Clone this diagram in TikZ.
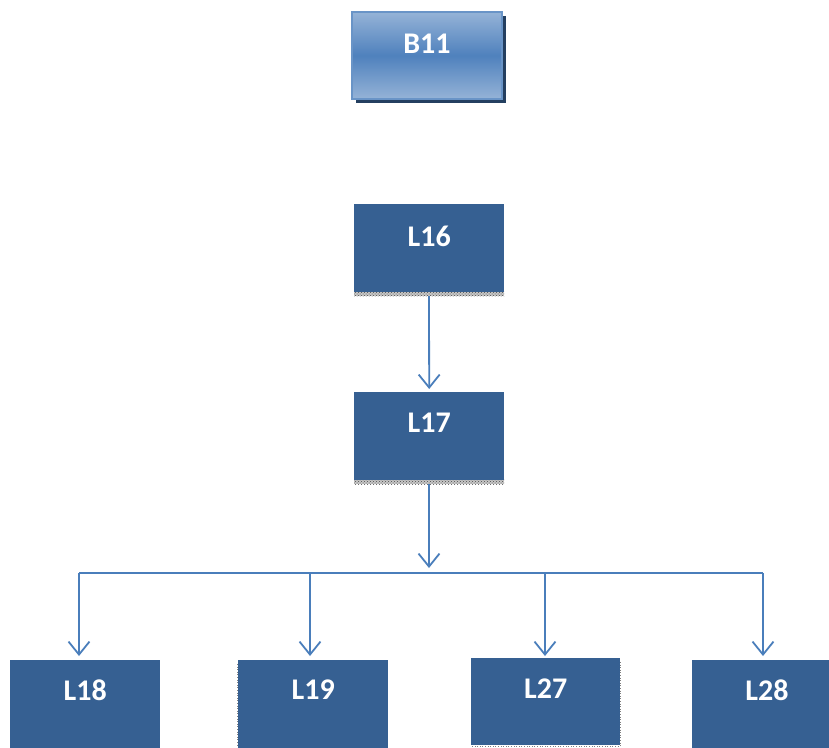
\documentclass[tikz,border=0pt]{standalone}
\usepackage{fontspec}
\setmainfont{Carlito}
\usetikzlibrary{arrows.meta,calc,patterns}
\definecolor{boxblue}{HTML}{366092}
\definecolor{lineblue}{HTML}{4A7EBB}
\definecolor{shadowblue}{HTML}{243F60}
\definecolor{gradlight}{HTML}{95B3D7}
\definecolor{gradmid}{HTML}{4F81BD}
\tikzset{
  box/.style={fill=boxblue, draw=none, minimum width=150pt, minimum height=88pt, anchor=north west, inner sep=0pt},
  gbox/.style={draw=gradmid!85!white, line width=2pt, top color=gradlight, bottom color=gradlight, middle color=gradmid, minimum width=150pt, minimum height=87pt, anchor=north west, inner sep=0pt},
  lbl/.style={text=white, font=\bfseries\fontsize{30}{31}\selectfont, inner sep=0pt},
  shadebg/.style={fill=gray!45, draw=none},
  shade/.style={pattern=crosshatch dots, pattern color=black!70, draw=none},
  conn/.style={draw=lineblue, line width=1.8pt},
  arr/.style={conn, -{Straight Barb[length=13pt,width=21pt,line width=1.8pt]}},
}
\begin{document}
\begin{tikzpicture}[x=1pt,y=-1pt]
\useasboundingbox (0,0) rectangle (829,747);
% B11
\fill[shadowblue] (356,16) rectangle (506,103);
\node[gbox] (b11) at (351,11) {};
\node[lbl] (b11t) at ($(b11.north)+(0,33)$) {B11};
% L16
\fill[shadebg] (354,291) rectangle (504,296);
\fill[shade] (354,291) rectangle (504,296);
\node[box] (l16) at (354,204) {};
\node[lbl] (l16t) at ($(l16.north)+(0,32)$) {L16};
% L17
\fill[shadebg] (354,479) rectangle (504,484);
\fill[shade] (354,479) rectangle (504,484);
\node[box] (l17) at (354,392) {};
\node[lbl] (l17t) at ($(l17.north)+(0,31)$) {L17};
% bottom row
\node[box] (l18) at (10,660) {};
\node[lbl] (l18t) at ($(l18.north)+(0,30)$) {L18};
\draw[gray, dotted, line width=0.6pt] (237,664) -- (237,747);
\node[box] (l19) at (238,660) {};
\node[lbl] (l19t) at ($(l19.north)+(0,30)$) {L19};
\draw[gray, dotted, line width=0.6pt] (620,662) -- (620,746) -- (471,746);
\node[box, minimum width=149pt, minimum height=87pt] (l27) at (471,658) {};
\node[lbl] (l27t) at ($(l27.north)+(0,31)$) {L27};
\node[box] (l28) at (692,660) {};
\node[lbl] (l28t) at (767,690) {L28};
% connectors
\coordinate (j) at (429,573);
\coordinate (a18) at (79,573);
\coordinate (a19) at (310,573);
\coordinate (a27) at (545,573);
\coordinate (a28) at (763,573);
\draw[arr, shorten >=3pt] (429,296) -- (l17.north);
\draw[conn] (a18) -- (a28);
\draw[arr, shorten >=5pt] (429,484) -- (j);
\draw[arr, shorten >=4pt] (a18) -- (a18 |- l18.north);
\draw[arr, shorten >=4pt] (a19) -- (a19 |- l19.north);
\draw[arr, shorten >=2pt] (a27) -- (a27 |- l27.north);
\draw[arr, shorten >=4pt] (a28) -- (a28 |- l28.north);
\end{tikzpicture}
\end{document}
